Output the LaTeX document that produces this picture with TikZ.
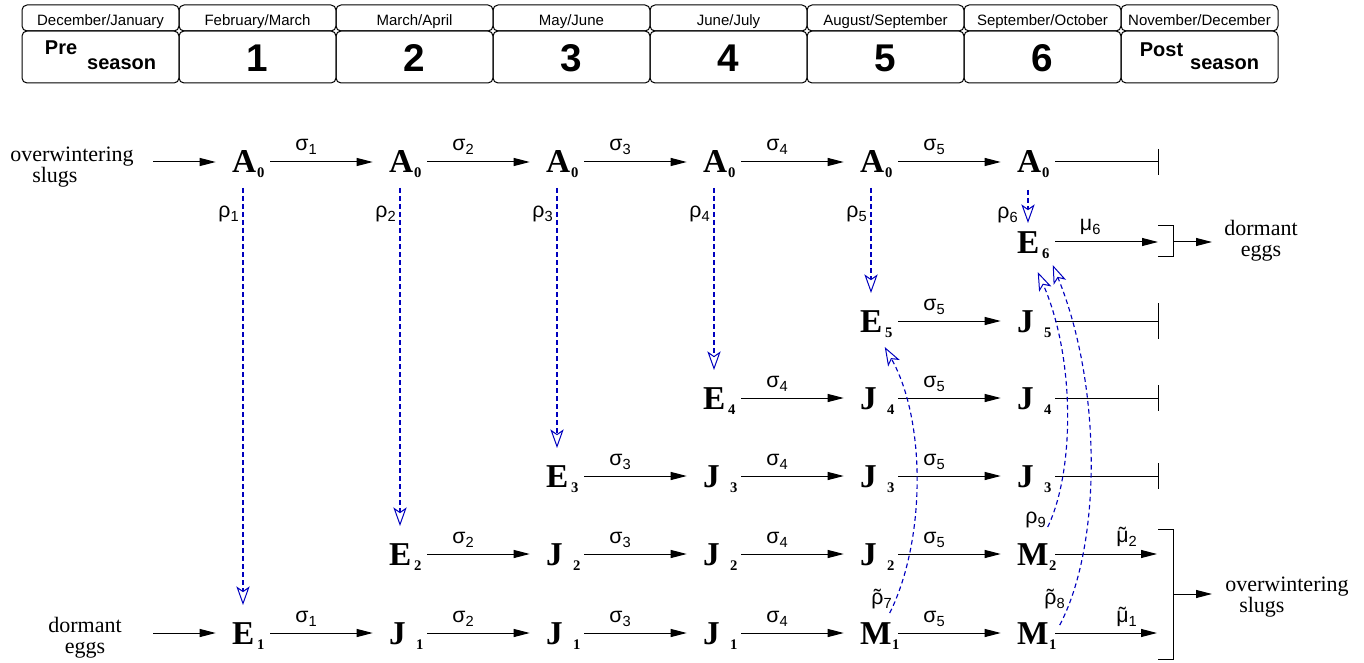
\documentclass[tikz,border=0pt]{standalone}
\usepackage{fontspec}
\setmainfont{Liberation Serif}
\newfontfamily\hv{Liberation Sans}
\usetikzlibrary{arrows.meta,calc}
\newdimen\pxu \pxu=0.75pt
\definecolor{dblue}{RGB}{0,0,190}
% node text: letter, subscript, subscript offset from letter's left edge (px)
\newcommand\nd[3]{\hbox to 54\pxu{\hskip16\pxu\rlap{\fontsize{25pt}{25pt}\selectfont\bfseries #1}\hskip#3\pxu\raisebox{-5\pxu}{\fontsize{11pt}{11pt}\selectfont\bfseries #2}\hss}}
\newcommand\gs[2]{#1\raisebox{-4\pxu}{\fontsize{11pt}{11pt}\selectfont #2}}
\newcommand\tld[1]{\setbox0=\hbox{#1}\rlap{\hbox to \wd0{\hss\char"02DC\hss}}\box0}
\begin{document}
\begin{tikzpicture}[x=0.75pt,y=-0.75pt,
  hb/.style={draw, line width=0.75pt, rounded corners=3.75pt, minimum width=117.75pt, inner sep=0, anchor=center},
  mon/.style={hb, minimum height=19.5pt, font=\hv\fontsize{11.25pt}{13pt}\selectfont, text height=12pt, text depth=0pt},
  big/.style={hb, minimum height=39pt, font=\hv\bfseries\fontsize{29pt}{30pt}\selectfont, text height=22.5pt, text depth=0pt},
  sea/.style={hb, minimum height=39pt, font=\hv\bfseries\fontsize{15pt}{16pt}\selectfont, text height=19.5pt, text depth=0pt},
  nd/.style={inner sep=0, text height=24pt, text depth=7.5pt},
  txt/.style={inner sep=0, font=\fontsize{16.5pt}{16.5pt}\selectfont},
  lab/.style={inner sep=0, font=\hv\fontsize{16pt}{16pt}\selectfont},
  ln/.style={line width=0.75pt},
  ar/.style={ln, -{Triangle[length=12pt,width=6pt]}},
  tb/.style={ln, -{Bar[width=19.5pt]}},
  dar/.style={line width=0.85pt, dblue, dash pattern=on 3.5pt off 2.5pt, -{Stealth[open,length=14pt,width=10pt,inset=3.5pt,line width=0.75pt]}},
  sg/.style={lab, pos=0.35, anchor=base, yshift=11\pxu}
]
\useasboundingbox (0,0) rectangle (1364,663);
% ---------- header ----------
\node[mon] (t1) at (100.5,18) {December/January};
\node[mon] (t2) at (257.5,18) {February/March};
\node[mon] (t3) at (414.5,18) {March/April};
\node[mon] (t4) at (571.5,18) {May/June};
\node[mon] (t5) at (728.5,18) {June/July};
\node[mon] (t6) at (885.5,18) {August/September};
\node[mon] (t7) at (1042.5,18) {September/October};
\node[mon] (t8) at (1199.5,18) {November/December};
\node[sea] (b1) at (100.5,57) {\raisebox{15\pxu}{Pre}\hspace{10\pxu}season};
\node[big] (b2) at (257.5,57) {1};
\node[big] (b3) at (414.5,57) {2};
\node[big] (b4) at (571.5,57) {3};
\node[big] (b5) at (728.5,57) {4};
\node[big] (b6) at (885.5,57) {5};
\node[big] (b7) at (1042.5,57) {6};
\node[sea] (b8) at (1199.5,57) {\raisebox{13\pxu}{Post}\hspace{7\pxu}season\hspace{8\pxu}};
% ---------- side texts (base = last line) ----------
\node[txt, align=left, anchor=base west] (owsL) at (10,183) {overwintering\\[-1\pxu]\hspace*{22\pxu}slugs};
\node[txt, align=center, anchor=base] (deL) at (85,653) {dormant\\[-1\pxu]eggs};
\node[txt, align=center, anchor=base] (deR) at (1261,257) {dormant\\[-1\pxu]eggs};
\node[txt, align=left, anchor=base west] (owsR) at (1225,612) {overwintering\\[-1\pxu]\hspace*{14\pxu}slugs};
\coordinate (inA) at (153,162);
\coordinate (inE) at (153,633);
% ---------- nodes ----------
\node[nd] (A1) at (243,162) {\nd{A}{0}{25}};
\node[nd] (A2) at (400,162) {\nd{A}{0}{25}};
\node[nd] (A3) at (557,162) {\nd{A}{0}{25}};
\node[nd] (A4) at (714,162) {\nd{A}{0}{25}};
\node[nd] (A5) at (871,162) {\nd{A}{0}{25}};
\node[nd] (A6) at (1028,162) {\nd{A}{0}{25}};
\node[nd] (E6) at (1028,242) {\nd{E}{6}{25}};
\node[nd] (E5) at (871,321) {\nd{E}{5}{25}};
\node[nd] (J5) at (1028,321) {\nd{J}{5}{27}};
\node[nd] (E4) at (714,398) {\nd{E}{4}{25}};
\node[nd] (J4a) at (871,398) {\nd{J}{4}{27}};
\node[nd] (J4b) at (1028,398) {\nd{J}{4}{27}};
\node[nd] (E3) at (557,476) {\nd{E}{3}{25}};
\node[nd] (J3a) at (714,476) {\nd{J}{3}{27}};
\node[nd] (J3b) at (871,476) {\nd{J}{3}{27}};
\node[nd] (J3c) at (1028,476) {\nd{J}{3}{27}};
\node[nd] (E2) at (400,554) {\nd{E}{2}{25}};
\node[nd] (J2a) at (557,554) {\nd{J}{2}{27}};
\node[nd] (J2b) at (714,554) {\nd{J}{2}{27}};
\node[nd] (J2c) at (871,554) {\nd{J}{2}{27}};
\node[nd] (M2) at (1028,554) {\nd{M}{2}{32}};
\node[nd] (E1) at (243,633) {\nd{E}{1}{25}};
\node[nd] (J1a) at (400,633) {\nd{J}{1}{27}};
\node[nd] (J1b) at (557,633) {\nd{J}{1}{27}};
\node[nd] (J1c) at (714,633) {\nd{J}{1}{27}};
\node[nd] (M1a) at (871,633) {\nd{M}{1}{32}};
\node[nd] (M1b) at (1028,633) {\nd{M}{1}{32}};
% ---------- solid arrows ----------
\draw[ar] (inA) -- (A1.west);
\draw[ar] (A1.east) -- (A2.west) node[sg] {\gs{σ}{1}};
\draw[ar] (A2.east) -- (A3.west) node[sg] {\gs{σ}{2}};
\draw[ar] (A3.east) -- (A4.west) node[sg] {\gs{σ}{3}};
\draw[ar] (A4.east) -- (A5.west) node[sg] {\gs{σ}{4}};
\draw[ar] (A5.east) -- (A6.west) node[sg] {\gs{σ}{5}};
\coordinate (barA) at (1159,162);
\draw[tb] (A6.east) -- (barA);
\coordinate (bkE) at (1158,242);
\draw[ar] (E6.east) -- (bkE) node[lab, pos=0.34, anchor=base, yshift=12\pxu] {\gs{μ}{6}};
\coordinate (bkEa) at (1158,226);
\coordinate (bkEb) at (1173,226);
\coordinate (bkEc) at (1173,256);
\coordinate (bkEd) at (1158,256);
\draw[ln] (bkEa) -- (bkEb) -- (bkEc) -- (bkEd);
\coordinate (bkEm) at (1173,242);
\coordinate (deIn) at (1212,242);
\draw[ar] (bkEm) -- (deIn);
\draw[ar] (E5.east) -- (J5.west) node[sg] {\gs{σ}{5}};
\coordinate (barJ5) at (1159,321);
\draw[ln, -{Bar[width=27pt]}] (J5.east) -- (barJ5);
\draw[ar] (E4.east) -- (J4a.west) node[sg] {\gs{σ}{4}};
\draw[ar] (J4a.east) -- (J4b.west) node[sg] {\gs{σ}{5}};
\coordinate (barJ4) at (1159,398);
\draw[tb] (J4b.east) -- (barJ4);
\draw[ar] (E3.east) -- (J3a.west) node[sg] {\gs{σ}{3}};
\draw[ar] (J3a.east) -- (J3b.west) node[sg] {\gs{σ}{4}};
\draw[ar] (J3b.east) -- (J3c.west) node[sg] {\gs{σ}{5}};
\coordinate (barJ3) at (1159,476);
\draw[tb] (J3c.east) -- (barJ3);
\draw[ar] (E2.east) -- (J2a.west) node[sg] {\gs{σ}{2}};
\draw[ar] (J2a.east) -- (J2b.west) node[sg] {\gs{σ}{3}};
\draw[ar] (J2b.east) -- (J2c.west) node[sg] {\gs{σ}{4}};
\draw[ar] (J2c.east) -- (M2.west) node[sg] {\gs{σ}{5}};
\coordinate (bkM2) at (1157,554);
\draw[ar] (M2.east) -- (bkM2) node[lab, pos=0.7, anchor=base, yshift=12\pxu] {\gs{\tld{μ}}{2}};
\draw[ar] (inE) -- (E1.west);
\draw[ar] (E1.east) -- (J1a.west) node[sg] {\gs{σ}{1}};
\draw[ar] (J1a.east) -- (J1b.west) node[sg] {\gs{σ}{2}};
\draw[ar] (J1b.east) -- (J1c.west) node[sg] {\gs{σ}{3}};
\draw[ar] (J1c.east) -- (M1a.west) node[sg] {\gs{σ}{4}};
\draw[ar] (M1a.east) -- (M1b.west) node[sg] {\gs{σ}{5}};
\coordinate (bkM1) at (1157,633);
\draw[ar] (M1b.east) -- (bkM1) node[lab, pos=0.7, anchor=base, yshift=11\pxu] {\gs{\tld{μ}}{1}};
\coordinate (bkMa) at (1158,529);
\coordinate (bkMb) at (1173,529);
\coordinate (bkMc) at (1173,659);
\coordinate (bkMd) at (1158,659);
\draw[ln] (bkMa) -- (bkMb) -- (bkMc) -- (bkMd);
\coordinate (bkMm) at (1173,594);
\coordinate (owIn) at (1212,594);
\draw[ar] (bkMm) -- (owIn);
% ---------- dashed (rho) arrows ----------
\draw[dar] ([yshift=-26\pxu]A1.center) -- ([yshift=28\pxu]E1.center);
\draw[dar] ([yshift=-26\pxu]A2.center) -- ([yshift=28\pxu]E2.center);
\draw[dar] ([yshift=-26\pxu]A3.center) -- ([yshift=28\pxu]E3.center);
\draw[dar] ([yshift=-26\pxu]A4.center) -- ([yshift=28\pxu]E4.center);
\draw[dar] ([yshift=-26\pxu]A5.center) -- ([yshift=28\pxu]E5.center);
\draw[dar] ([yshift=-28\pxu]A6.center) -- ([yshift=19\pxu]E6.center);
\node[lab, anchor=base east] (r1) at (239,218) {\gs{ρ}{1}};
\node[lab, anchor=base east] (r2) at (396,218) {\gs{ρ}{2}};
\node[lab, anchor=base east] (r3) at (553,218) {\gs{ρ}{3}};
\node[lab, anchor=base east] (r4) at (710,218) {\gs{ρ}{4}};
\node[lab, anchor=base east] (r5) at (867,218) {\gs{ρ}{5}};
\node[lab, anchor=base east] (r6) at (1018,219) {\gs{ρ}{6}};
\draw[dar] ([xshift=46\pxu,yshift=20\pxu]M1a.west) .. controls (926,540) and (926,420) .. ([xshift=41\pxu,yshift=-26\pxu]E5.west);
\draw[dar] ([xshift=59\pxu,yshift=8\pxu]M1b.west) .. controls (1102,545) and (1102,385) .. ([xshift=52\pxu,yshift=-23\pxu]E6.west);
\draw[dar] ([xshift=47\pxu,yshift=27\pxu]M2.west) .. controls (1075,470) and (1075,357) .. ([xshift=37\pxu,yshift=-30\pxu]E6.west);
\node[lab, anchor=base east] (r7) at (892,604) {\gs{\tld{ρ}}{7}};
\node[lab, anchor=base east] (r8) at (1065,604) {\gs{\tld{ρ}}{8}};
\node[lab, anchor=base east] (r9) at (1046,523) {\gs{ρ}{9}};
\end{tikzpicture}
\end{document}
